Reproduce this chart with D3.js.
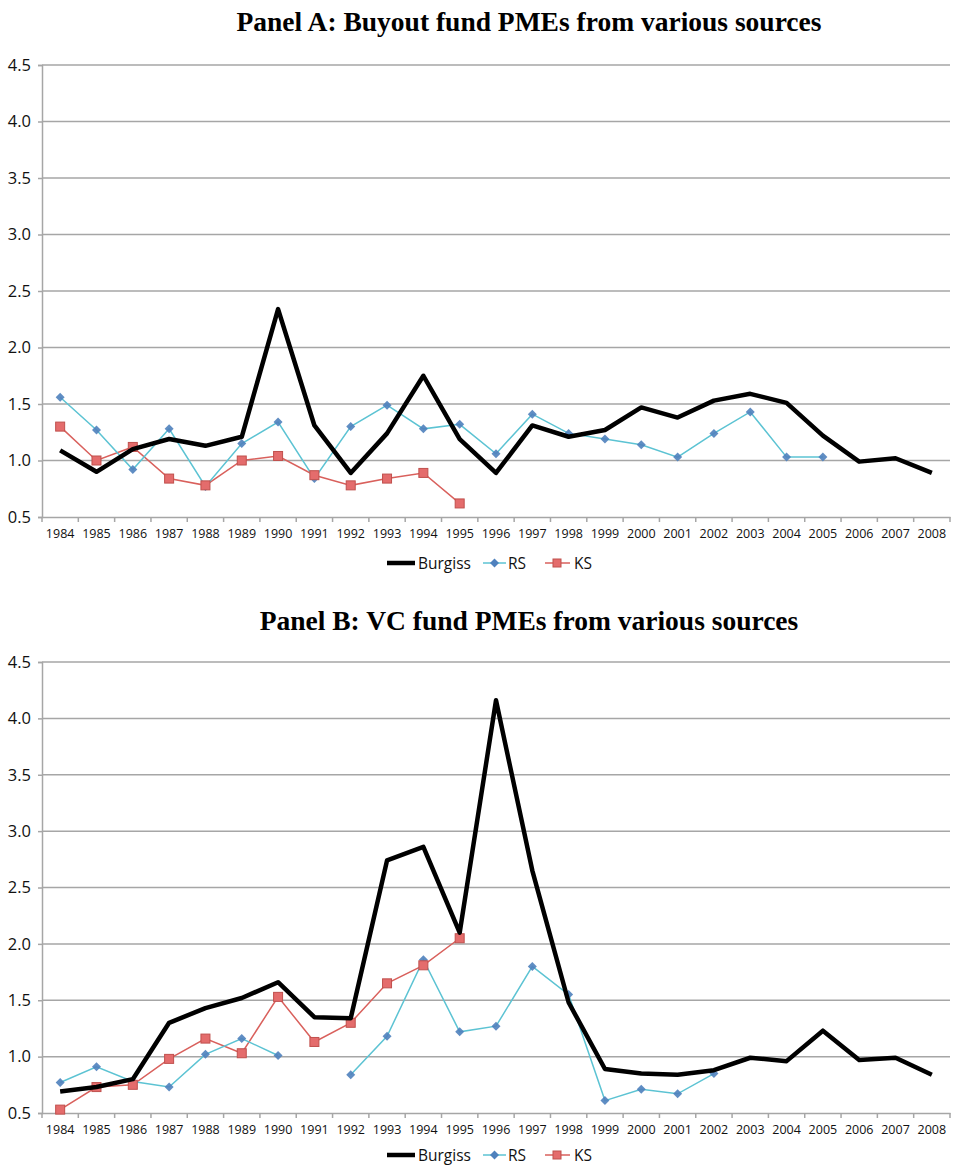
<!DOCTYPE html>
<html>
<head>
<meta charset="utf-8">
<script src="https://cdn.jsdelivr.net/npm/d3@7"></script>
<style>
  body { margin: 0; background: #fff; }
  svg { display: block; }
</style>
</head>
<body>
<svg id="chart" width="956" height="1167"></svg>
<script>
const years = d3.range(1984, 2009).map(String);
const yTicks = [0.5, 1.0, 1.5, 2.0, 2.5, 3.0, 3.5, 4.0, 4.5];

// Panel A: buyout funds
const buyoutBurgiss = [1.09, 0.90, 1.10, 1.19, 1.13, 1.21, 2.34, 1.31, 0.89, 1.24, 1.75, 1.19, 0.89,
  1.31, 1.21, 1.27, 1.47, 1.38, 1.53, 1.59, 1.51, 1.22, 0.99, 1.02, 0.89];
const buyoutRS = [1.56, 1.27, 0.92, 1.28, 0.77, 1.15, 1.34, 0.84, 1.30, 1.49, 1.28, 1.32, 1.06,
  1.41, 1.24, 1.19, 1.14, 1.03, 1.24, 1.43, 1.03, 1.03, null, null, null];
const buyoutKS = [1.30, 1.00, 1.12, 0.84, 0.78, 1.00, 1.04, 0.87, 0.78, 0.84, 0.89, 0.62,
  null, null, null, null, null, null, null, null, null, null, null, null, null];

// Panel B: VC funds
const vcBurgiss = [0.69, 0.73, 0.80, 1.30, 1.43, 1.52, 1.66, 1.35, 1.34, 2.74, 2.86, 2.10, 4.16,
  2.65, 1.48, 0.89, 0.85, 0.84, 0.88, 0.99, 0.96, 1.23, 0.97, 0.99, 0.84];
const vcRS = [0.77, 0.91, 0.78, 0.73, 1.02, 1.16, 1.01, null, 0.84, 1.18, 1.86, 1.22, 1.27,
  1.80, 1.55, 0.61, 0.71, 0.67, 0.85, null, null, null, null, null, null];
const vcKS = [0.53, 0.73, 0.75, 0.98, 1.16, 1.03, 1.53, 1.13, 1.30, 1.65, 1.81, 2.05,
  null, null, null, null, null, null, null, null, null, null, null, null, null];

const svg = d3.select("#chart");
const left = 42, right = 950;
const gridColor = "#a6a6a6";
const rsLine = "#5cc3d3", rsMark = "#4f81bd";
const ksLine = "#d9605c", ksMark = "#e46c6c", ksEdge = "#c0504d";

// square turned 45 degrees, like the spreadsheet diamond marker
function diamond(cx, cy) {
  let r = 4.5;
  return "M" + cx + "," + (cy - r) + "L" + (cx + r) + "," + cy + "L" + cx + "," + (cy + r) + "L" + (cx - r) + "," + cy + "Z";
}

function drawPanel(title, burgiss, rs, ks, top, bottom, titleY, legendY) {
  let x = d3.scaleBand().domain(years).range([left, right]);
  let y = d3.scaleLinear().domain([0.5, 4.5]).range([bottom, top]);
  let g = svg.append("g");

  g.append("text")
    .attr("x", 529).attr("y", titleY)
    .attr("text-anchor", "middle")
    .style("font-family", "'Liberation Serif', serif")
    .style("font-weight", "bold")
    .style("font-size", "27.5px")
    .text(title);

  // gridlines
  g.selectAll(".grid")
    .data(yTicks.slice(1))
    .enter()
    .append("line")
      .attr("x1", left).attr("x2", right)
      .attr("y1", d => y(d)).attr("y2", d => y(d))
      .attr("stroke", gridColor).attr("stroke-width", 1.5);

  // y axis
  let yAxis = g.append("g")
    .attr("transform", "translate(" + left + ",0)")
    .call(d3.axisLeft(y).tickValues(yTicks).tickFormat(d3.format(".1f")).tickSize(4).tickPadding(7));
  yAxis.select(".domain").attr("stroke", gridColor).attr("stroke-width", 1.5);
  yAxis.selectAll(".tick line").attr("stroke", gridColor).attr("stroke-width", 1.5);
  yAxis.selectAll("text")
    .style("font-family", "'Open Sans', sans-serif")
    .style("font-size", "16.5px")
    .attr("fill", "#111");

  // x axis
  let xAxis = g.append("g")
    .attr("transform", "translate(0," + bottom + ")")
    .call(d3.axisBottom(x).tickSize(0).tickPadding(12));
  xAxis.select(".domain").attr("stroke", gridColor).attr("stroke-width", 1.5);
  xAxis.selectAll("text")
    .style("font-family", "'Open Sans', sans-serif")
    .style("font-size", "12.5px")
    .attr("fill", "#111");
  g.selectAll(".xtick")
    .data(years.concat(["end"]))
    .enter()
    .append("line")
      .attr("x1", (d, i) => left + i * x.bandwidth())
      .attr("x2", (d, i) => left + i * x.bandwidth())
      .attr("y1", bottom).attr("y2", bottom + 5)
      .attr("stroke", gridColor).attr("stroke-width", 1.5);

  let line = d3.line()
    .defined(d => d.v !== null)
    .x(d => x(d.year) + x.bandwidth() / 2)
    .y(d => y(d.v));
  let wrap = arr => years.map((yr, i) => ({ year: yr, v: arr[i] }));

  // KS
  let ksData = wrap(ks);
  g.append("path").datum(ksData)
    .attr("d", line).attr("fill", "none")
    .attr("stroke", ksLine).attr("stroke-width", 1.5);
  // RS
  let rsData = wrap(rs);
  g.append("path").datum(rsData)
    .attr("d", line).attr("fill", "none")
    .attr("stroke", rsLine).attr("stroke-width", 1.5);
  g.selectAll(".rs")
    .data(rsData.filter(d => d.v !== null))
    .enter()
    .append("path")
      .attr("d", d => diamond(x(d.year) + x.bandwidth() / 2, y(d.v)))
      .attr("fill", rsMark).attr("opacity", 0.9);
  g.selectAll(".ks")
    .data(ksData.filter(d => d.v !== null))
    .enter()
    .append("rect")
      .attr("x", d => x(d.year) + x.bandwidth() / 2 - 4.5)
      .attr("y", d => y(d.v) - 4.5)
      .attr("width", 9).attr("height", 9)
      .attr("fill", ksMark).attr("stroke", ksEdge).attr("stroke-width", 1);
  // Burgiss
  g.append("path").datum(wrap(burgiss))
    .attr("d", line).attr("fill", "none")
    .attr("stroke", "#000").attr("stroke-width", 4.5)
    .attr("stroke-linejoin", "round");

  // legend
  let lg = g.append("g").attr("transform", "translate(0," + legendY + ")");
  let textStyle = s => s.style("font-family", "'Open Sans', sans-serif").style("font-size", "15.5px").attr("fill", "#111");
  lg.append("line").attr("x1", 387).attr("x2", 415).attr("y1", 0).attr("y2", 0)
    .attr("stroke", "#000").attr("stroke-width", 4.5);
  lg.append("text").attr("x", 418).attr("y", 5.5).text("Burgiss").call(textStyle);
  lg.append("line").attr("x1", 483).attr("x2", 506).attr("y1", 0).attr("y2", 0)
    .attr("stroke", rsLine).attr("stroke-width", 1.5);
  lg.append("path").attr("d", diamond(494.5, 0)).attr("fill", rsMark);
  lg.append("text").attr("x", 508).attr("y", 5.5).text("RS").call(textStyle);
  lg.append("line").attr("x1", 545).attr("x2", 570).attr("y1", 0).attr("y2", 0)
    .attr("stroke", ksLine).attr("stroke-width", 1.5);
  lg.append("rect").attr("x", 553).attr("y", -4).attr("width", 8).attr("height", 8)
    .attr("fill", ksMark).attr("stroke", ksEdge);
  lg.append("text").attr("x", 574).attr("y", 5.5).text("KS").call(textStyle);
}

drawPanel("Panel A: Buyout fund PMEs from various sources", buyoutBurgiss, buyoutRS, buyoutKS, 65, 517, 31, 563);
drawPanel("Panel B: VC fund PMEs from various sources", vcBurgiss, vcRS, vcKS, 662, 1113, 630, 1155);
</script>
</body>
</html>
